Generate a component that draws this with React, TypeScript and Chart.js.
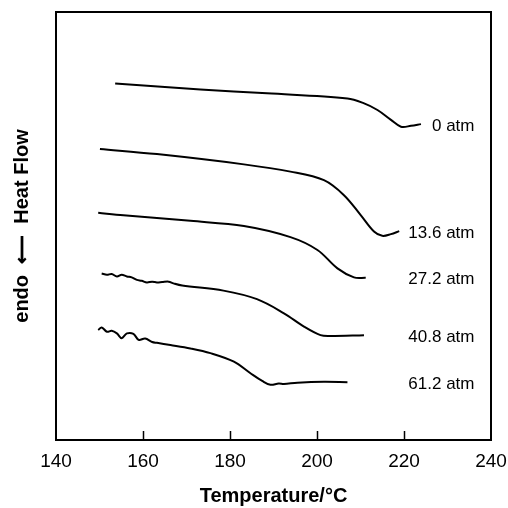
import React, { useEffect, useRef } from "react";
import { Chart, registerables } from "chart.js";

Chart.register(...registerables);

// Temperature (°C) / heat flow (arbitrary units) for each pressure
const seriesNames = ["0 atm", "13.6 atm", "27.2 atm", "40.8 atm", "61.2 atm"];

const temp0 = [153.6, 173.2, 188.5, 207.0, 210.7, 213.9, 217.0, 219.3, 221.6, 223.9];
const flow0 = [83.3, 81.9, 81.0, 79.8, 78.7, 77.1, 74.8, 73.2, 73.4, 73.8];

const temp136 = [150.1, 163.2, 183.2, 193.9, 201.6, 206.2, 210.0, 213.1, 215.0, 217.0, 218.9];
const flow136 = [68.0, 66.8, 64.4, 62.7, 60.7, 57.2, 52.6, 48.7, 47.7, 48.1, 48.8];

const temp272 = [149.7, 155.5, 170.9, 183.2, 193.9, 200.1, 204.7, 208.5, 211.2];
const flow272 = [53.1, 52.5, 51.2, 50.0, 47.4, 44.4, 40.1, 38.0, 37.9];

const temp408 = [150.5, 151.7, 152.8, 154.0, 155.1, 156.3, 157.4, 158.6, 159.7, 160.9, 162.1, 163.2, 164.4, 165.9, 167.0, 169.0, 178.5, 186.2, 192.4, 197.0, 200.8, 203.1, 210.8];
const flow408 = [38.9, 38.6, 38.8, 38.2, 38.6, 38.2, 38.0, 37.4, 37.2, 36.8, 37.0, 36.8, 36.9, 37.0, 36.6, 36.1, 34.9, 32.9, 29.6, 26.5, 24.5, 24.3, 24.5];

const temp612 = [149.7, 150.5, 151.7, 152.8, 154.0, 155.1, 156.3, 157.8, 159.0, 160.5, 162.1, 163.2, 166.3, 170.9, 175.5, 180.9, 184.7, 187.4, 189.3, 191.2, 192.4, 195.5, 201.6, 207.0];
const flow612 = [25.7, 26.3, 25.3, 25.5, 24.9, 23.8, 24.9, 24.8, 23.4, 23.7, 22.9, 22.7, 22.2, 21.4, 20.3, 18.3, 15.6, 13.8, 12.9, 13.2, 13.1, 13.4, 13.6, 13.5];

const xTickValues = [140, 160, 180, 200, 220, 240];
const labelRightTemp = 236.2;

const allTemps = [temp0, temp136, temp272, temp408, temp612];
const allFlows = [flow0, flow136, flow272, flow408, flow612];

const FONT = '"Liberation Sans", Arial, Helvetica, sans-serif';

const framePlugin = {
  id: "frameAndLabels",
  afterDatasetsDraw(chart: any) {
    const { ctx, chartArea, scales } = chart;
    const x = scales.x;
    const y = scales.y;
    ctx.save();
    ctx.strokeStyle = "#000";
    ctx.lineWidth = 2;
    ctx.strokeRect(chartArea.left, chartArea.top, chartArea.right - chartArea.left, chartArea.bottom - chartArea.top);
    ctx.lineWidth = 1.5;
    xTickValues.slice(1, -1).forEach((v) => {
      const px = Math.round(x.getPixelForValue(v)) + 0.5;
      ctx.beginPath();
      ctx.moveTo(px, chartArea.bottom);
      ctx.lineTo(px, chartArea.bottom - 9);
      ctx.stroke();
    });
    ctx.fillStyle = "#000";
    ctx.font = `17px ${FONT}`;
    ctx.textAlign = "right";
    ctx.textBaseline = "middle";
    chart.data.datasets.forEach((ds: any) => {
      const last = ds.data[ds.data.length - 1];
      ctx.fillText(ds.label, x.getPixelForValue(labelRightTemp), y.getPixelForValue(last.y) + 2);
    });
    ctx.restore();
  },
};

export default function App() {
  const ref = useRef<HTMLCanvasElement | null>(null);
  useEffect(() => {
    if (!ref.current) return;
    const datasets = seriesNames.map((name, i) => ({
      label: name,
      data: allTemps[i].map((t, j) => ({ x: t, y: allFlows[i][j] })),
      borderColor: "#000",
      backgroundColor: "#000",
      borderWidth: 2,
      pointRadius: 0,
      tension: 0.35,
      fill: false,
    }));
    const chart = new Chart(ref.current, {
      type: "line",
      data: { datasets },
      plugins: [framePlugin],
      options: {
        responsive: false,
        animation: false,
        layout: { padding: { left: 0, right: 17, top: 12, bottom: 0 } },
        plugins: { legend: { display: false }, tooltip: { enabled: false } },
        scales: {
          x: {
            type: "linear",
            min: 140,
            max: 240,
            afterBuildTicks: (s: any) => {
              s.ticks = xTickValues.map((v) => ({ value: v }));
            },
            afterFit: (s: any) => {
              s.height = 68;
              s.paddingLeft = 0;
              s.paddingRight = 0;
            },
            grid: { display: false, drawTicks: false },
            border: { display: false },
            ticks: {
              color: "#000",
              padding: 10,
              maxRotation: 0,
              autoSkip: false,
              font: { family: FONT, size: 19 },
            },
            title: {
              display: true,
              text: "Temperature/°C",
              color: "#000",
              padding: { top: 0, bottom: 0 },
              font: { family: FONT, size: 20, weight: "bold" },
            },
          },
          y: {
            type: "linear",
            min: 0,
            max: 100,
            afterFit: (s: any) => {
              s.width = 56;
              s.paddingTop = 0;
              s.paddingBottom = 0;
            },
            grid: { display: false, drawTicks: false },
            border: { display: false },
            ticks: { display: false },
            title: {
              display: true,
              text: "endo  ⟵  Heat Flow",
              color: "#000",
              padding: { top: 10, bottom: 0 },
              font: { family: FONT, size: 20, weight: "bold" },
            },
          },
        },
      },
    } as any);
    return () => chart.destroy();
  }, []);
  return (
    <div style={{ position: "absolute", left: 0, top: 0, width: 508, height: 508, background: "#fff" }}>
      <canvas ref={ref} width={508} height={508} style={{ display: "block" }} />
    </div>
  );
}
